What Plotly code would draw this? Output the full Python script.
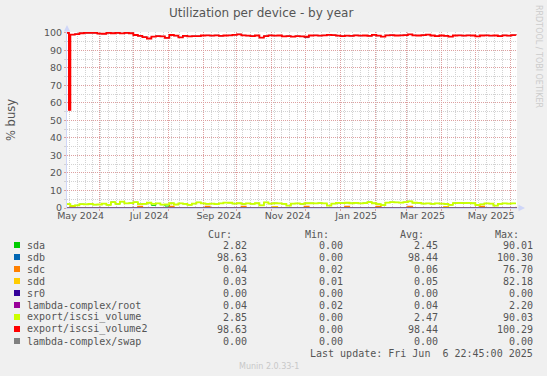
import plotly.graph_objects as go
import pandas as pd

# ---------------- data ----------------
range_start = "2024-05-02 22:45"
range_end = "2025-06-06 22:45"
first_sample = "2024-05-01 22:45"
step = "4D"

# short drop at the very start of the period (time, value)
dip_time = "2024-05-04 16:00"
dip_value = 56

iscsi_volume2 = [
    100, 99.0, 99.3, 99.8, 100, 100, 100, 99.6, 99.5, 100,
    99.8, 100, 99.7, 100, 99.8, 98.8, 98.3, 97.6, 96.8, 97.9,
    98.2, 98.0, 97.2, 98.8, 98.4, 97.4, 98.3, 98.0, 98.1, 98.1,
    98.5, 98.6, 98.4, 98.6, 98.3, 98.5, 98.6, 98.9, 99.2, 98.6,
    98.4, 98.2, 98.5, 97.3, 98.2, 98.6, 98.4, 98.5, 98.0, 98.2,
    97.9, 98.1, 98.0, 97.8, 98.5, 98.6, 98.4, 98.6, 98.9, 98.7,
    98.4, 98.2, 98.4, 98.3, 98.6, 98.4, 98.5, 98.3, 98.9, 98.4,
    97.9, 98.6, 98.7, 98.5, 98.6, 98.7, 99.1, 98.6, 98.5, 98.7,
    99.0, 98.5, 98.2, 98.5, 98.3, 97.9, 98.5, 98.6, 98.4, 98.6,
    98.5, 98.0, 98.5, 98.6, 98.4, 98.5, 98.2, 98.6, 98.4, 98.7,
    98.6,
]
sdb = [
    100, 99.0, 99.3, 99.8, 100, 100, 100, 99.6, 99.5, 100,
    99.8, 100, 99.7, 100, 99.8, 98.8, 98.3, 97.6, 96.8, 97.9,
    98.2, 98.0, 97.2, 98.8, 98.4, 97.4, 98.3, 98.0, 98.1, 98.1,
    98.5, 98.6, 98.4, 98.6, 98.3, 98.5, 98.6, 98.9, 99.2, 98.6,
    98.4, 98.2, 98.5, 97.3, 98.2, 98.6, 98.4, 98.5, 98.0, 98.2,
    97.9, 98.1, 98.0, 97.3, 98.5, 98.6, 98.4, 98.6, 98.9, 98.7,
    98.4, 98.2, 98.4, 98.3, 98.6, 98.4, 98.5, 98.3, 98.9, 98.4,
    97.9, 98.6, 98.7, 98.5, 98.6, 98.7, 99.1, 98.6, 98.5, 98.7,
    99.0, 98.5, 98.2, 98.5, 98.3, 97.9, 98.5, 98.6, 98.4, 98.6,
    98.5, 98.0, 98.5, 98.6, 98.4, 98.5, 98.2, 98.6, 98.4, 98.7,
    98.6,
]
iscsi_volume = [
    2.2, 1.2, 1.5, 2.2, 2.1, 2.3, 1.9, 2.0, 2.5, 1.8,
    3.4, 2.3, 3.6, 2.6, 2.8, 3.3, 2.2, 2.4, 3.0, 2.3,
    2.6, 1.9, 2.1, 2.7, 2.0, 2.6, 2.4, 1.8, 2.5, 3.2,
    2.6, 2.4, 2.5, 2.2, 2.6, 3.1, 3.0, 2.5, 2.7, 2.3,
    2.6, 2.4, 2.7, 1.5, 3.2, 2.5, 2.7, 2.6, 2.4, 1.4,
    2.5, 2.6, 2.3, 2.7, 2.7, 2.6, 2.8, 2.6, 1.4, 2.5,
    2.9, 2.8, 3.0, 2.7, 2.9, 2.6, 2.8, 3.4, 2.7, 2.2,
    1.6, 3.1, 3.3, 3.2, 3.1, 3.3, 3.8, 3.0, 2.9, 2.5,
    2.6, 2.4, 2.6, 2.5, 2.3, 1.8, 2.8, 2.9, 2.8, 2.9,
    2.7, 1.7, 2.1, 2.6, 2.5, 1.4, 2.4, 2.6, 2.5, 2.6,
    2.6,
]
sda = [
    2.2, 1.2, 1.5, 2.2, 2.1, 2.3, 1.9, 2.0, 2.5, 1.8,
    3.4, 2.3, 3.6, 2.6, 2.8, 3.3, 2.2, 2.4, 3.0, 1.5,
    2.6, 1.9, 1.1, 2.7, 2.0, 2.6, 2.4, 1.8, 2.5, 3.2,
    2.6, 2.4, 2.5, 2.2, 2.6, 3.1, 3.0, 2.5, 2.7, 2.3,
    2.6, 2.4, 2.7, 1.5, 3.2, 2.5, 2.7, 2.6, 2.4, 1.4,
    2.5, 2.6, 2.3, 2.7, 2.7, 2.6, 2.8, 2.6, 1.4, 2.5,
    2.9, 2.8, 3.0, 2.7, 2.9, 2.6, 2.8, 3.4, 2.7, 2.2,
    1.6, 3.1, 3.3, 3.2, 3.1, 3.3, 3.8, 3.0, 2.9, 2.5,
    2.6, 2.4, 2.6, 2.5, 2.3, 1.8, 2.8, 2.9, 2.8, 2.9,
    2.7, 1.7, 2.1, 2.6, 2.5, 1.4, 2.4, 2.6, 2.5, 2.6,
    2.6,
]
sdc = [
    0.03, 0.8, 0.03, 0.03, 0.03, 0.03, 0.03, 0.03, 0.03, 0.03,
    0.03, 0.03, 0.03, 0.03, 0.03, 0.03, 0.8, 0.03, 0.03, 0.03,
    0.03, 0.03, 0.03, 0.8, 0.03, 0.03, 0.03, 0.03, 0.03, 0.03,
    0.03, 0.8, 0.03, 0.03, 0.03, 0.03, 0.03, 0.03, 0.03, 0.8,
    0.03, 0.03, 0.03, 0.03, 0.03, 0.03, 0.03, 0.03, 0.03, 0.03,
    0.03, 0.03, 0.03, 0.8, 0.03, 0.03, 0.03, 0.03, 0.03, 0.03,
    0.03, 0.03, 0.8, 0.03, 0.03, 0.03, 0.03, 0.03, 0.03, 0.8,
    0.03, 0.03, 0.03, 0.03, 0.03, 0.03, 0.8, 0.03, 0.03, 0.03,
    0.03, 0.03, 0.03, 0.03, 0.03, 0.03, 0.03, 0.03, 0.03, 0.03,
    0.03, 0.03, 0.8, 0.03, 0.03, 0.03, 0.03, 0.03, 0.03, 0.03,
    0.03,
]
sdd = [
    0.02, 0.02, 0.02, 0.02, 0.02, 0.02, 0.02, 0.02, 0.02, 0.02,
    0.02, 0.02, 0.02, 0.02, 0.02, 0.02, 0.02, 0.02, 0.02, 0.02,
    0.02, 0.02, 0.02, 0.02, 0.02, 0.02, 0.02, 0.02, 0.02, 0.02,
    0.02, 0.02, 0.02, 0.02, 0.02, 0.02, 0.02, 0.02, 0.02, 0.02,
    0.02, 0.02, 0.02, 0.02, 0.02, 0.02, 0.7, 0.02, 0.02, 0.02,
    0.02, 0.02, 0.02, 0.02, 0.02, 0.02, 0.02, 0.02, 0.02, 0.02,
    0.02, 0.02, 0.02, 0.02, 0.02, 0.02, 0.02, 0.02, 0.02, 0.02,
    0.02, 0.02, 0.02, 0.02, 0.02, 0.02, 0.02, 0.02, 0.02, 0.02,
    0.02, 0.02, 0.02, 0.02, 0.7, 0.02, 0.02, 0.02, 0.02, 0.02,
    0.02, 0.02, 0.02, 0.02, 0.02, 0.02, 0.02, 0.02, 0.02, 0.02,
    0.7,
]
# flat series (only endpoints needed)
flat_dates = [range_start, range_end]
sr0 = [0.0, 0.0]
lambda_root = [0.04, 0.04]
lambda_swap = [0.0, 0.0]

names = ["sda", "sdb", "sdc", "sdd", "sr0", "lambda-complex/root",
         "export/iscsi_volume", "export/iscsi_volume2", "lambda-complex/swap"]
colors = ["#00CC00", "#0066B3", "#FF8000", "#FFCC00", "#330099", "#990099",
          "#CCFF00", "#FF0000", "#808080"]
cur_vals = ["2.82", "98.63", "0.04", "0.03", "0.00", "0.04", "2.85", "98.63", "0.00"]
min_vals = ["0.00", "0.00", "0.02", "0.01", "0.00", "0.02", "0.00", "0.00", "0.00"]
avg_vals = ["2.45", "98.44", "0.06", "0.05", "0.00", "0.04", "2.47", "98.44", "0.00"]
max_vals = ["90.01", "100.30", "76.70", "82.18", "0.00", "2.20", "90.03", "100.29", "0.00"]

label_dates = ["2024-05-15", "2024-07-15", "2024-09-15", "2024-11-15",
               "2025-01-15", "2025-03-15", "2025-05-15"]
label_text = ["May 2024", "Jul 2024", "Sep 2024", "Nov 2024",
              "Jan 2025", "Mar 2025", "May 2025"]

title = "Utilization per device - by year"
ylabel = "% busy"
last_update = "Last update: Fri Jun  6 22:45:00 2025"
version = "Munin 2.0.33-1"
watermark = "RRDTOOL / TOBI OETIKER"

# ---------------- layout constants ----------------
W, H = 547, 376
L, R, T, B = 67, 517, 32, 208
YMAX = 100.5
AXIS = "#CFD6F8"
GRID = "#D2D2D2"
MGRID = "#DDA0A0"
FONT = "#555555"
SANS = "DejaVu Sans"
MONO = "DejaVu Sans Mono"


def px(x):
    return (x - L) / (R - L)


def py(y):
    return (B - y) / (B - T)


dates = list(pd.date_range(first_sample, periods=len(iscsi_volume2), freq=step))


def with_dip(vals):
    # insert the short drop between the first two samples
    xs = [dates[0], pd.Timestamp(dip_time)] + dates[1:]
    ys = [vals[0], dip_value] + vals[1:]
    return xs, ys


series = {
    "sda": (dates, sda),
    "sdb": with_dip(sdb),
    "sdc": (dates, sdc),
    "sdd": (dates, sdd),
    "sr0": (flat_dates, sr0),
    "lambda-complex/root": (flat_dates, lambda_root),
    "export/iscsi_volume": (dates, iscsi_volume),
    "export/iscsi_volume2": with_dip(iscsi_volume2),
    "lambda-complex/swap": (flat_dates, lambda_swap),
}
widths = {"sda": 1.0, "sdb": 1.0, "export/iscsi_volume": 1.8,
          "export/iscsi_volume2": 1.8}

fig = go.Figure()
for name, color in zip(names, colors):
    xs, ys = series[name]
    fig.add_trace(go.Scatter(
        x=xs, y=ys, name=name, mode="lines",
        line=dict(color=color, width=widths.get(name, 1.5), shape="hv"),
        xaxis="x2" if name == "lambda-complex/swap" else "x",
        showlegend=False, hoverinfo="skip",
    ))

fig.update_layout(
    width=W, height=H, autosize=False,
    margin=dict(l=L, r=W - R, t=T, b=H - B, pad=0),
    paper_bgcolor="#F0F0F0", plot_bgcolor="#FFFFFF",
    showlegend=False,
    xaxis=dict(
        type="date", range=[range_start, range_end],
        tick0="2024-06-01", dtick="M1", showticklabels=False,
        showgrid=True, gridcolor=MGRID, griddash="1px,1px", gridwidth=1,
        minor=dict(tick0="2024-05-05", dtick=7 * 86400000, showgrid=True,
                   gridcolor=GRID, griddash="1px,1px", gridwidth=1),
        ticks="outside", ticklen=2, tickcolor=MGRID,
        showline=True, linecolor=AXIS, linewidth=1, zeroline=False,
        fixedrange=True,
    ),
    xaxis2=dict(
        type="date", range=[range_start, range_end], overlaying="x",
        anchor="y", side="bottom",
        tickmode="array", tickvals=label_dates, ticktext=label_text,
        showgrid=False, showline=False, zeroline=False, ticks="",
        tickfont=dict(family=SANS, size=9.5, color=FONT),
        fixedrange=True,
    ),
    yaxis=dict(
        range=[0, YMAX], tickmode="linear", tick0=0, dtick=10,
        showgrid=True, gridcolor=MGRID, griddash="1px,1px", gridwidth=1,
        minor=dict(tick0=0, dtick=5, showgrid=True, gridcolor=GRID,
                   griddash="1px,1px", gridwidth=1, ticks="outside",
                   ticklen=2, tickcolor=GRID),
        ticks="outside", ticklen=2, tickcolor=MGRID,
        showline=True, linecolor=AXIS, linewidth=1, zeroline=False,
        tickfont=dict(family=SANS, size=9.5, color=FONT),
        fixedrange=True,
    ),
)

ann = []
# title
ann.append(dict(x=px(261), y=py(13.5), xref="paper", yref="paper",
                text=title, showarrow=False, xanchor="center", yanchor="middle",
                font=dict(family=SANS, size=12, color=FONT)))
# y label
ann.append(dict(x=px(11), y=py(120), xref="paper", yref="paper",
                text=ylabel, showarrow=False, textangle=-90,
                xanchor="center", yanchor="middle",
                font=dict(family=SANS, size=11.5, color=FONT)))
# watermark
ann.append(dict(x=px(539), y=py(56), xref="paper", yref="paper",
                text=watermark, showarrow=False, textangle=90,
                xanchor="center", yanchor="middle",
                font=dict(family=SANS, size=8, color="#CCCCCC")))
# version
ann.append(dict(x=px(269), y=py(366), xref="paper", yref="paper",
                text=version, showarrow=False, xanchor="center", yanchor="middle",
                font=dict(family=SANS, size=8, color="#C8C8C8")))
# axis arrows
ann.append(dict(x=px(67), y=py(25), ax=0, ay=8, xref="paper", yref="paper",
                axref="pixel", ayref="pixel", text="", showarrow=True,
                arrowhead=2, arrowsize=1.3, arrowwidth=1, arrowcolor=AXIS))
ann.append(dict(x=px(525), y=py(208), ax=-9, ay=0, xref="paper", yref="paper",
                axref="pixel", ayref="pixel", text="", showarrow=True,
                arrowhead=2, arrowsize=1.3, arrowwidth=1, arrowcolor=AXIS))

mono = dict(family=MONO, size=10, color=FONT)


def text_at(x, y, s, anchor):
    ann.append(dict(x=px(x), y=py(y), xref="paper", yref="paper", text=s,
                    showarrow=False, xanchor=anchor, yanchor="middle",
                    borderpad=0, borderwidth=0, font=mono))


col_right = [247, 343, 438, 533]
head_right = [232, 329, 424, 519]
for hx, h in zip(head_right, ["Cur:", "Min:", "Avg:", "Max:"]):
    text_at(hx, 234, h, "right")

shapes = []
row0, row_step = 245, 12
for i, (n, c) in enumerate(zip(names, colors)):
    yc = row0 + i * row_step
    shapes.append(dict(type="rect", xref="paper", yref="paper",
                       x0=px(14), x1=px(20), y0=py(yc + 3), y1=py(yc - 3),
                       fillcolor=c, line=dict(width=0)))
    text_at(27, yc, n, "left")
    for cx, v in zip(col_right, [cur_vals[i], min_vals[i], avg_vals[i], max_vals[i]]):
        text_at(cx, yc, v, "right")

text_at(533, 353, last_update, "right")

fig.update_layout(annotations=ann, shapes=shapes)
fig.write_html(
    "out.html",
    config={"displayModeBar": False},
    post_script="document.body.style.margin='0';document.body.style.overflow='hidden';",
)
